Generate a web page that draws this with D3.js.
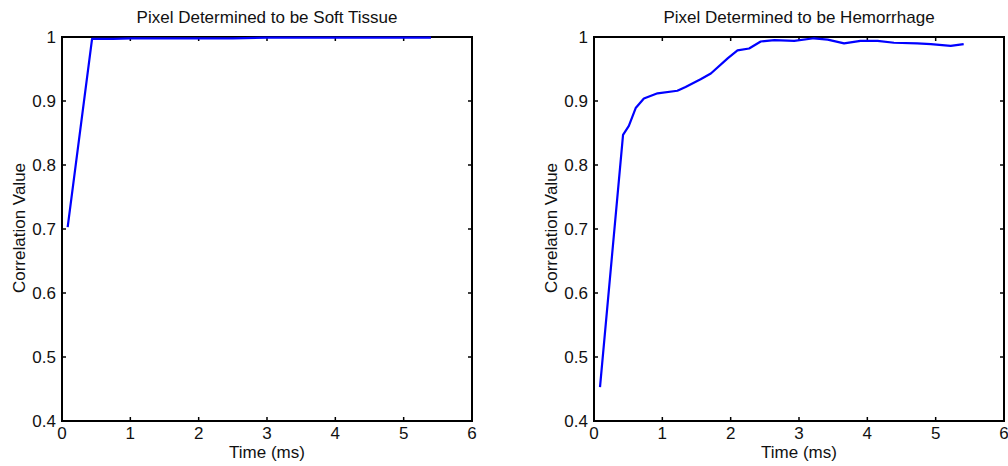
<!DOCTYPE html>
<html>
<head>
<meta charset="utf-8">
<script src="https://cdn.jsdelivr.net/npm/d3@7"></script>
<style>
  html, body { margin: 0; padding: 0; background: #fff; }
  svg { display: block; }
  text { font-family: "Liberation Sans", Arial, sans-serif; fill: #111; }
</style>
</head>
<body>
<svg id="chart" width="1008" height="466"></svg>
<script>
// Correlation over time for a soft-tissue pixel
const softTime  = [0.083, 0.44, 0.75, 1.0, 1.5, 2.0, 2.5, 3.0, 3.5, 4.0, 4.5, 5.0, 5.4];
const softValue = [0.703, 0.997, 0.997, 0.998, 0.998, 0.998, 0.998, 0.999, 0.999, 0.999, 0.999, 0.999, 0.999];

// Correlation over time for a hemorrhage pixel
const hemTime  = [0.088, 0.425, 0.51, 0.61, 0.73, 0.93, 1.22, 1.34, 1.56, 1.71, 1.96, 2.10, 2.27, 2.44, 2.64, 2.93, 3.22, 3.42, 3.66, 3.90, 4.15, 4.39, 4.73, 4.93, 5.22, 5.41];
const hemValue = [0.453, 0.847, 0.861, 0.889, 0.904, 0.912, 0.916, 0.922, 0.934, 0.943, 0.967, 0.979, 0.982, 0.993, 0.995, 0.994, 0.998, 0.996, 0.990, 0.994, 0.994, 0.991, 0.990, 0.989, 0.986, 0.989];

const xTicks = [0, 1, 2, 3, 4, 5, 6];
const yTicks = [0.4, 0.5, 0.6, 0.7, 0.8, 0.9, 1];
const yTickLabels = ["0.4", "0.5", "0.6", "0.7", "0.8", "0.9", "1"];

const panels = [
  { title: "Pixel Determined to be Soft Tissue", time: softTime, value: softValue, left: 62 },
  { title: "Pixel Determined to be Hemorrhage",  time: hemTime,  value: hemValue,  left: 594 }
];

const svg = d3.select("#chart");
const plotW = 410, plotTop = 37, plotBottom = 421, tickLen = 4, fs = 17;

panels.forEach(p => {
  const x = d3.scaleLinear().domain([0, 6]).range([p.left, p.left + plotW]);
  const y = d3.scaleLinear().domain([0.4, 1]).range([plotBottom, plotTop]);
  const g = svg.append("g");

  // inward ticks on all four sides
  const ticks = g.append("g").attr("stroke", "#000").attr("stroke-width", 1.5);
  xTicks.forEach(t => {
    ticks.append("line").attr("x1", x(t)).attr("x2", x(t)).attr("y1", plotBottom).attr("y2", plotBottom - tickLen);
    ticks.append("line").attr("x1", x(t)).attr("x2", x(t)).attr("y1", plotTop).attr("y2", plotTop + tickLen);
  });
  yTicks.forEach(t => {
    ticks.append("line").attr("x1", p.left).attr("x2", p.left + tickLen).attr("y1", y(t)).attr("y2", y(t));
    ticks.append("line").attr("x1", p.left + plotW).attr("x2", p.left + plotW - tickLen).attr("y1", y(t)).attr("y2", y(t));
  });

  // axes box
  g.append("rect")
    .attr("x", p.left).attr("y", plotTop)
    .attr("width", plotW).attr("height", plotBottom - plotTop)
    .attr("fill", "none").attr("stroke", "#000").attr("stroke-width", 2);

  // data line, drawn over the frame
  const line = d3.line().x((d, i) => x(p.time[i])).y(d => y(d));
  g.append("path")
    .datum(p.value)
    .attr("d", line)
    .attr("fill", "none")
    .attr("stroke", "#0000ff")
    .attr("stroke-width", 2.2)
    .attr("stroke-linejoin", "round");

  // tick labels
  xTicks.forEach(t => {
    g.append("text").attr("x", x(t)).attr("y", 439)
      .attr("text-anchor", "middle").attr("font-size", fs).text(t);
  });
  yTicks.forEach((t, i) => {
    g.append("text").attr("x", p.left - 6).attr("y", y(t) + 6)
      .attr("text-anchor", "end").attr("font-size", fs).text(yTickLabels[i]);
  });

  // titles
  g.append("text").attr("x", p.left + plotW / 2).attr("y", 22.5)
    .attr("text-anchor", "middle").attr("font-size", fs).text(p.title);
  g.append("text").attr("x", p.left + plotW / 2).attr("y", 458)
    .attr("text-anchor", "middle").attr("font-size", fs).text("Time (ms)");
  g.append("text")
    .attr("transform", `translate(${p.left - 37},228) rotate(-90)`)
    .attr("text-anchor", "middle").attr("font-size", fs).text("Correlation Value");
});
</script>
</body>
</html>
